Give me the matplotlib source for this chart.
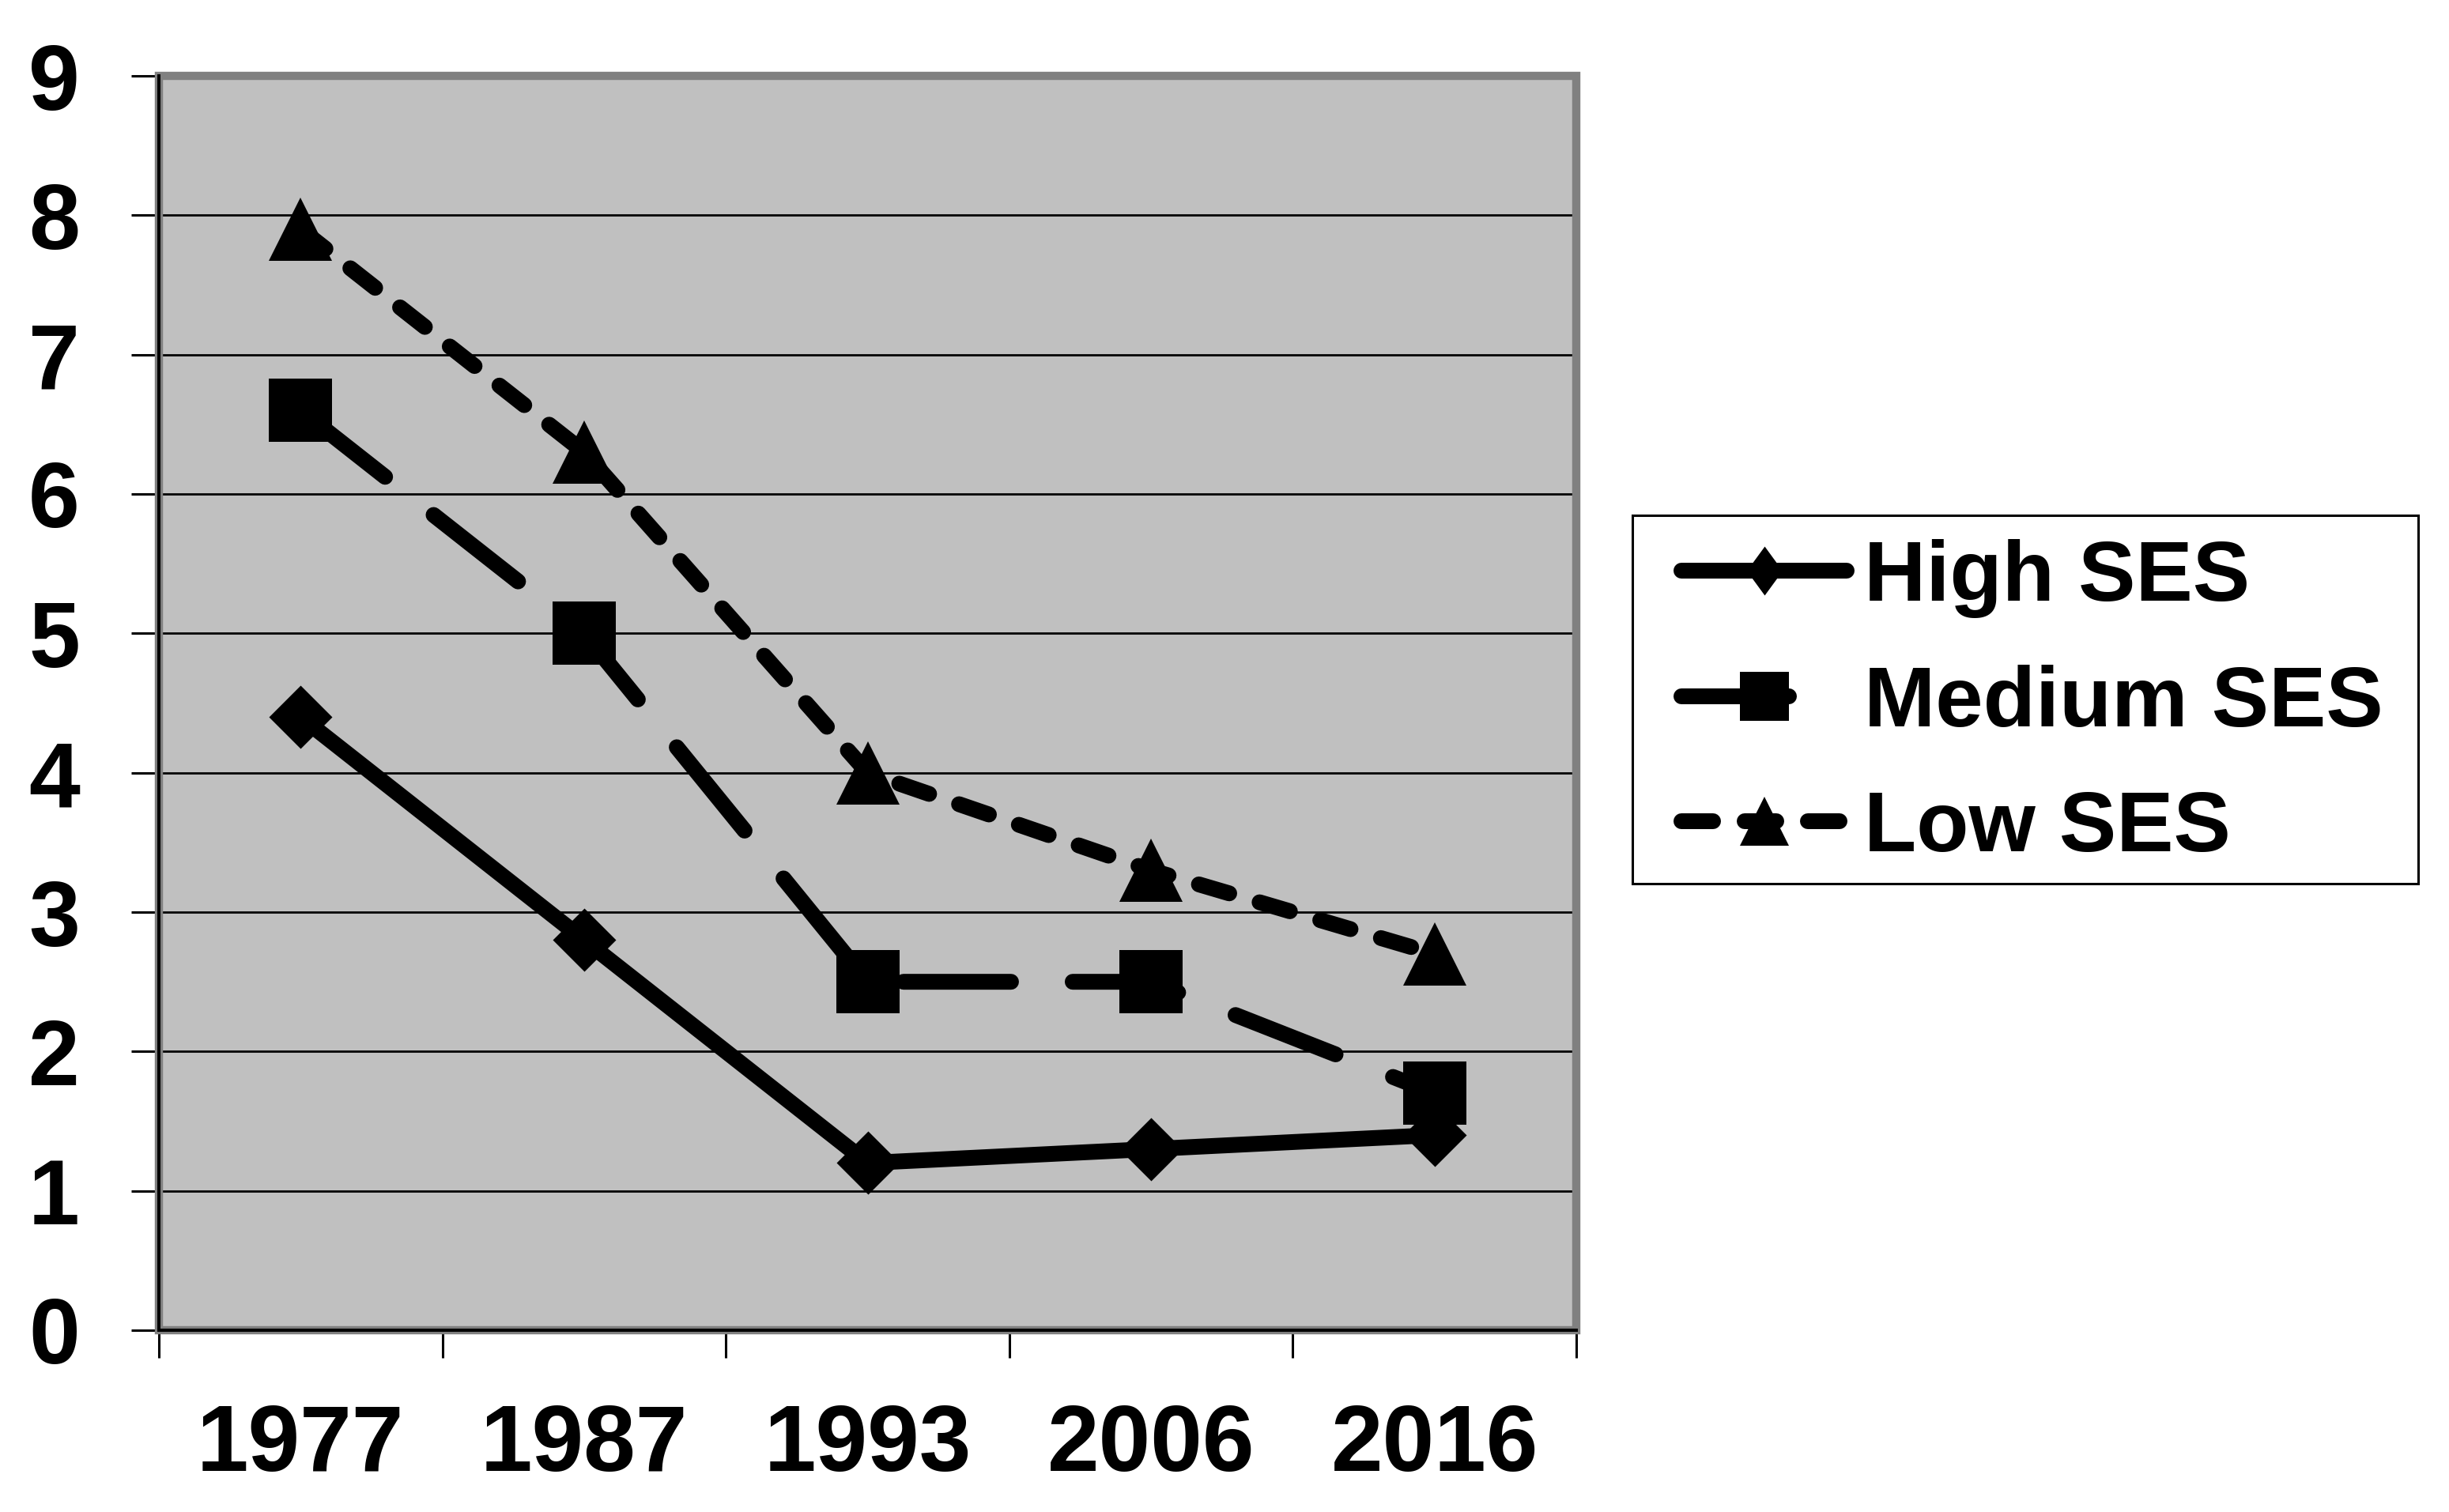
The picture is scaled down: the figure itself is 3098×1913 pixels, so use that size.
import numpy as np
import matplotlib
matplotlib.use('Agg')
from matplotlib import pyplot as plt
from matplotlib.lines import Line2D
from matplotlib.patches import Rectangle

# values
years = ['1977', '1987', '1993', '2006', '2016']
high_ses = [4.4, 2.8, 1.2, 1.3, 1.4]
medium_ses = [6.6, 5.0, 2.5, 2.5, 1.7]
low_ses = [7.9, 6.3, 4.0, 3.3, 2.7]
series_names = ['High SES', 'Medium SES', 'Low SES']
y_ticks = list(range(0, 10))

plt.rcParams['font.family'] = ['Liberation Sans', 'DejaVu Sans']
plt.rcParams['font.weight'] = 'bold'

W, H = 3098, 1913
fig = plt.figure(figsize=(W / 100, H / 100), dpi=100)
# plot area in pixels: x 201..1994, y 96..1683
ax = fig.add_axes([201 / W, 1 - 1683 / H, (1994 - 201) / W, (1683 - 96) / H])
ax.set_facecolor('#c0c0c0')

LW = 14.4
diamond = [(0, 1), (1, 0), (0, -1), (-1, 0), (0, 1)]
legend_diamond = [(0, 1), (0.73, 0), (0, -1), (-0.73, 0), (0, 1)]
common = dict(color='black', lw=LW, solid_capstyle='round', dash_capstyle='round',
              solid_joinstyle='round', dash_joinstyle='round', markeredgewidth=0)

x = np.arange(len(years))
ax.plot(x, high_ses, marker=diamond, markersize=57.6, linestyle='-', zorder=4, **common)
ax.plot(x, medium_ses, marker='s', markersize=57, dashes=(6.8, 3.9), zorder=3, **common)
ax.plot(x, low_ses, marker='^', markersize=57.6, dashes=(2, 2), zorder=3, **common)

ax.set_xlim(-0.5, len(years) - 0.5)
ax.set_ylim(0, 9)
ax.set_yticks(y_ticks)
ax.set_xticks(x)
ax.set_xticklabels(years)
ax.set_xticks(np.arange(-0.5, len(years), 1), minor=True)

ax.yaxis.grid(True, color='black', lw=2.0)
ax.set_axisbelow(True)

ax.tick_params(axis='y', which='major', length=25, width=2.2, pad=47, labelsize=84, direction='out')
ax.tick_params(axis='y', which='minor', length=0)
ax.tick_params(axis='x', which='major', length=0, pad=66, labelsize=85)
ax.tick_params(axis='x', which='minor', length=25, width=2.2, direction='out')
for lab in ax.get_xticklabels() + ax.get_yticklabels():
    lab.set_fontweight('bold')

# grey frame round the plot area, black axis lines on left and bottom
ax.add_patch(Rectangle((0, 0), 1, 1, transform=ax.transAxes, fill=False,
                       edgecolor='#808080', lw=7.5, clip_on=False, zorder=2.4))
for side in ['top', 'right']:
    ax.spines[side].set_visible(False)
for side in ['left', 'bottom']:
    ax.spines[side].set_color('black')
    ax.spines[side].set_linewidth(2.9)
    ax.spines[side].set_zorder(2.6)

# legend
handles = [
    Line2D([], [], marker=legend_diamond, markersize=44.6, linestyle='-', **common),
    Line2D([], [], marker='s', markersize=45, dashes=(6.8, 3.9), **common),
    Line2D([], [], marker='^', markersize=45, dashes=(2, 2), **common),
]
fig.legend(handles, series_names, loc='upper left', bbox_to_anchor=(2127 / W, 1 - 682 / H),
           frameon=False, borderpad=0, borderaxespad=0, handlelength=1.93, handletextpad=0.2,
           labelspacing=0.54, numpoints=1, prop=dict(size=78, weight='bold'))
fig.add_artist(Rectangle((2065 / W, 1 - 1118 / H), (3059 - 2065) / W, (1118 - 652) / H,
                         transform=fig.transFigure, fill=False, edgecolor='black', lw=2.2))

fig.savefig('out.png', dpi=100, facecolor='white')
